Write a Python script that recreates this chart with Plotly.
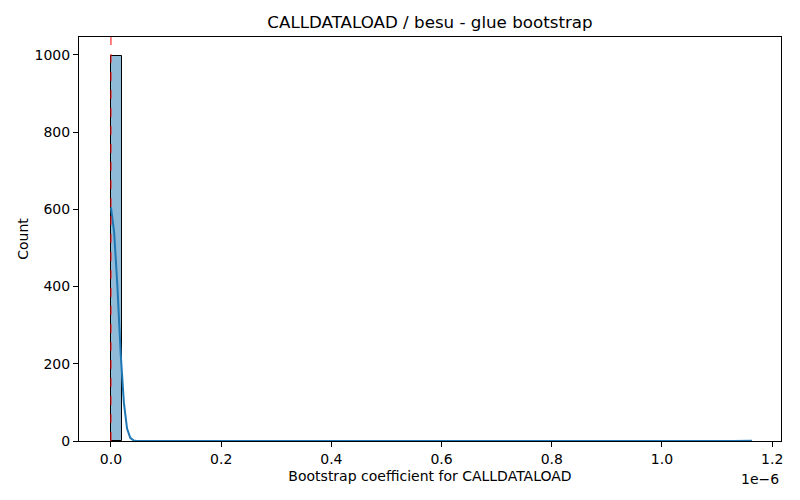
import numpy as np
import plotly.graph_objects as go

# Histogram of bootstrap coefficients (x in units of 1e-6)
data_min = 0.0
data_max = 1.163
n_bins = 60
bin_counts = [996] + [0] * 14 + [1] + [0] * 25 + [1] + [0] * 17 + [1]

# KDE curve (count scale), x in units of 1e-6
kde_x = [0.0, 0.0058, 0.0117, 0.0175, 0.0234, 0.0292, 0.0350, 0.0409, 0.0467, 0.0526,
         0.07, 0.28, 0.30, 0.32, 0.34, 0.78, 0.80, 0.82, 0.84, 1.13, 1.15, 1.163]
kde_y = [605, 540, 400, 230, 100, 32, 8, 1.6, 0.3, 0.05,
         0.0, 0.0, 0.5, 0.5, 0.0, 0.0, 0.4, 0.4, 0.0, 0.0, 0.4, 0.5]

ref_x = 0.0
x_ticks = [0.0, 0.2, 0.4, 0.6, 0.8, 1.0, 1.2]
y_ticks = [0, 200, 400, 600, 800, 1000]

edges = np.linspace(data_min, data_max, n_bins + 1)
centers = (edges[:-1] + edges[1:]) / 2
width = edges[1] - edges[0]
nz = [i for i, c in enumerate(bin_counts) if c > 0]

fig = go.Figure()
fig.add_trace(go.Bar(
    x=[centers[i] for i in nz], y=[bin_counts[i] for i in nz], width=width,
    marker=dict(color="rgba(31,119,180,0.5)", line=dict(color="black", width=1)),
    showlegend=False, hoverinfo="skip"))
fig.add_trace(go.Scatter(x=kde_x, y=kde_y, mode="lines",
                         line=dict(color="#1f77b4", width=2), showlegend=False))
fig.add_shape(type="line", x0=ref_x, x1=ref_x, y0=0, y1=1, xref="x", yref="paper",
              line=dict(color="red", width=1, dash="dash"))

font = "DejaVu Sans"
axis_common = dict(showline=True, linecolor="black", linewidth=1, mirror=True,
                   ticks="outside", ticklen=5, tickcolor="black", showgrid=False,
                   zeroline=False, tickfont=dict(family=font, size=14, color="black"))
fig.update_layout(
    width=800, height=500,
    margin=dict(l=79, r=19, t=37, b=59),
    plot_bgcolor="white", paper_bgcolor="white",
    title=dict(text="CALLDATALOAD / besu - glue bootstrap", x=0.5375, xanchor="center",
               y=0.955, yanchor="middle", font=dict(family=font, size=16.7, color="black")),
    bargap=0,
    xaxis=dict(range=[-0.058, 1.216], tickvals=x_ticks,
               ticktext=[f"{v:.1f}" for v in x_ticks],
               title=dict(text="Bootstrap coefficient for CALLDATALOAD",
                          font=dict(family=font, size=14, color="black"), standoff=5),
               **axis_common),
    yaxis=dict(range=[0, 1046], tickvals=y_ticks,
               title=dict(text="Count", font=dict(family=font, size=14, color="black"),
                          standoff=2),
               **axis_common),
)
fig.add_annotation(text="1e\u22126", xref="paper", yref="paper", x=1.0, y=-0.07,
                   xanchor="right", yanchor="top", showarrow=False,
                   font=dict(family=font, size=14, color="black"))
fig.write_html("out.html", config={"displayModeBar": False},
               post_script="document.body.style.margin='0';")
